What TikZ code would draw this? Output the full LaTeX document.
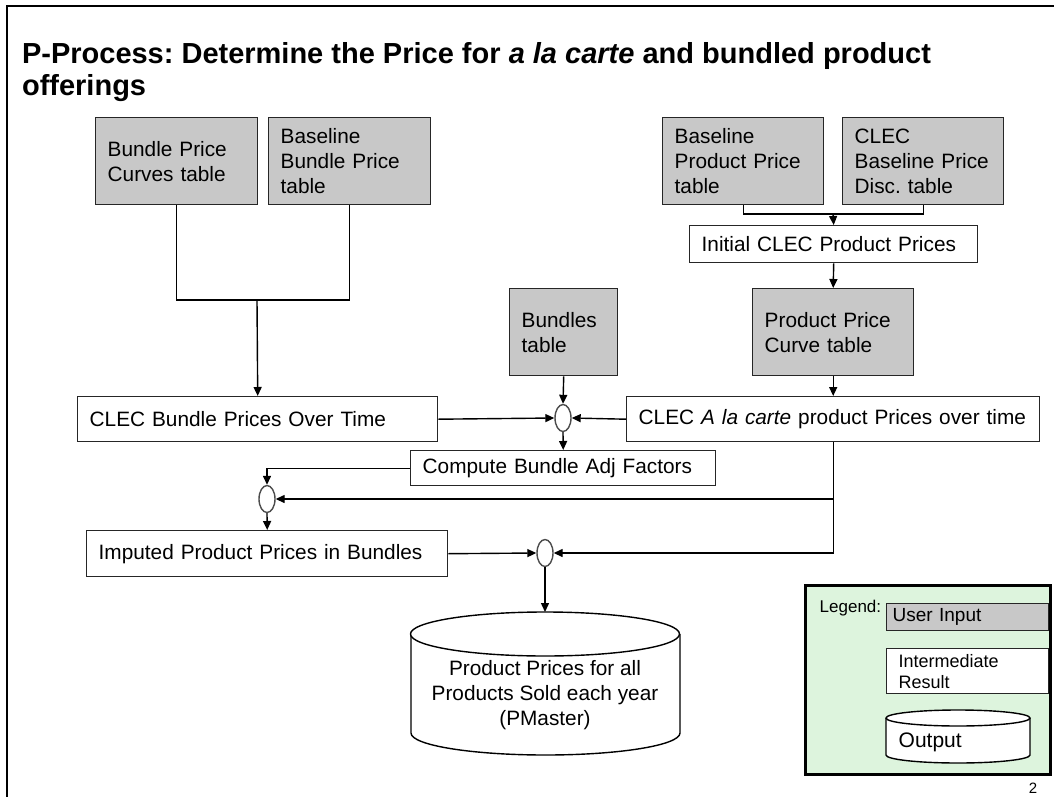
\documentclass[tikz,border=0pt]{standalone}
\usepackage{fontspec}
\setmainfont{Liberation Sans}
\frenchspacing
\usetikzlibrary{arrows.meta,shapes.geometric}
\definecolor{tablegray}{RGB}{200,200,200}
\definecolor{legendgreen}{RGB}{221,244,221}
\tikzset{
  procbox/.style={draw=black!85, line width=1.4pt, anchor=north west, align=left,
    inner xsep=12pt, inner ysep=0pt, font=\fontsize{20.8}{25}\selectfont},
  tablebox/.style={procbox, fill=tablegray},
  resultbox/.style={procbox, fill=white},
  junct/.style={ellipse, draw=black!70, line width=1.4pt, fill=white,
    minimum width=16pt, minimum height=27pt, inner sep=0pt},
}
\begin{document}
\begin{tikzpicture}[x=1pt, y=-1pt, line width=1.4pt, >={Triangle[length=9pt,width=8pt]}]
      \useasboundingbox (0,0) rectangle (1054,797);
      \draw[line width=2.5pt] (7,797) -- (7,6) -- (1054,6);
      \node[anchor=base west, font=\fontsize{29}{34}\selectfont\bfseries] (title) at (18,64)
        {P-Process: Determine the Price for \textit{a la carte} and bundled product};
      \node[anchor=base west, font=\fontsize{29}{34}\selectfont\bfseries] (title2) at (18,96) {offerings};

      \node[tablebox, text width=138pt, minimum height=87pt] (bpc) at (95,117) {Bundle Price\\Curves table};
      \node[tablebox, text width=138pt, minimum height=87pt] (bbp) at (268,117) {Baseline\\Bundle Price\\table};
      \node[tablebox, text width=137pt, minimum height=87pt] (bpp) at (662,117) {Baseline\\Product Price\\table};
      \node[tablebox, text width=137pt, minimum height=87pt] (cbd) at (842,117) {CLEC\\Baseline Price\\Disc. table};
      \node[resultbox, text width=264pt, minimum height=37pt] (icp) at (689,225) {Initial CLEC Product Prices};
      \node[tablebox, text width=137pt, minimum height=87pt] (ppc) at (752,288) {Product Price\\Curve table};
      \node[tablebox, text width=84pt, minimum height=87pt] (bun) at (509,288) {Bundles\\table};
      \node[resultbox, text width=336pt, minimum height=45pt] (cbp) at (77,396) {CLEC Bundle Prices Over Time};
      \node[resultbox, text width=389pt, minimum height=45pt] (alc) at (626,396) {CLEC \textit{A la carte} product Prices over time};
      \node[resultbox, text width=281pt, minimum height=35pt] (cba) at (410,450) {Compute Bundle Adj Factors};
      \node[resultbox, text width=337pt, minimum height=46pt] (ipb) at (86,530) {Imputed Product Prices in Bundles};
      \node[junct] (j1) at (563,418) {};
      \node[junct] (j2) at (267,499) {};
      \node[junct] (j3) at (545,553) {};

      \draw[fill=white] (411,634) -- (411,733) arc[start angle=180, end angle=360, x radius=134.5pt, y radius=22pt] -- (680,634);
      \draw[fill=white] (545,634) ellipse [x radius=134.5pt, y radius=22pt];
      \coordinate (pmtop) at (545,612);
      \node[align=center, font=\fontsize{20.8}{25}\selectfont] (pm) at (545,695)
        {Product Prices for all\\Products Sold each year\\(PMaster)};

      \coordinate (m1) at (257,300);
      \coordinate (m2) at (833,214);
      \coordinate (m3) at (alc.south |- j2.east);
      \draw (bpc.south) |- (m1) -| (bbp.south);
      \draw (bpp.south) |- (m2) -| (cbd.south);
      \begin{scope}[->]
        \draw (m1) -- (cbp.north);
        \draw (m2) -- (icp.north);
        \draw (icp.south) -- (ppc.north);
        \draw (ppc.south) -- (alc.north);
        \draw (bun.south) -- (j1.north);
        \draw (cbp.east) -- (j1.west);
        \draw (alc.west) -- (j1.east);
        \draw (j1.south) -- (cba.north);
        \draw (cba.west) -| (j2.north);
        \draw (alc.south) |- (j3.east);
        \draw (m3) -- (j2.east);
        \draw (j2.south) -- (ipb.north);
        \draw (ipb.east) -- (j3.west);
        \draw (j3.south) -- (pmtop);
      \end{scope}

      \node[draw, line width=2.5pt, fill=legendgreen, anchor=north west, minimum width=245pt, minimum height=189pt] (legend) at (804,584) {};
      \node[anchor=base west, font=\fontsize{17}{20}\selectfont, inner sep=0pt] (legtxt) at (819,612) {Legend:};
      \node[tablebox, inner xsep=6pt, text width=150pt, minimum height=27pt, font=\fontsize{19}{22}\selectfont] (leguser) at (886,603) {User Input};
      \node[resultbox, text width=138pt, minimum height=45pt, font=\fontsize{18}{21}\selectfont] (legres) at (886,648) {Intermediate\\Result};
      \draw[fill=white] (886,718) -- (886,755) arc[start angle=180, end angle=360, x radius=72pt, y radius=8pt] -- (1030,718);
      \draw[fill=white] (958,718) ellipse [x radius=72pt, y radius=8pt];
      \node[anchor=west, font=\fontsize{21}{24}\selectfont, inner sep=0pt] (legout) at (898,742) {Output};
      \node[font=\fontsize{15}{18}\selectfont] (pgno) at (1033,788) {2};
    \end{tikzpicture}
\end{document}
